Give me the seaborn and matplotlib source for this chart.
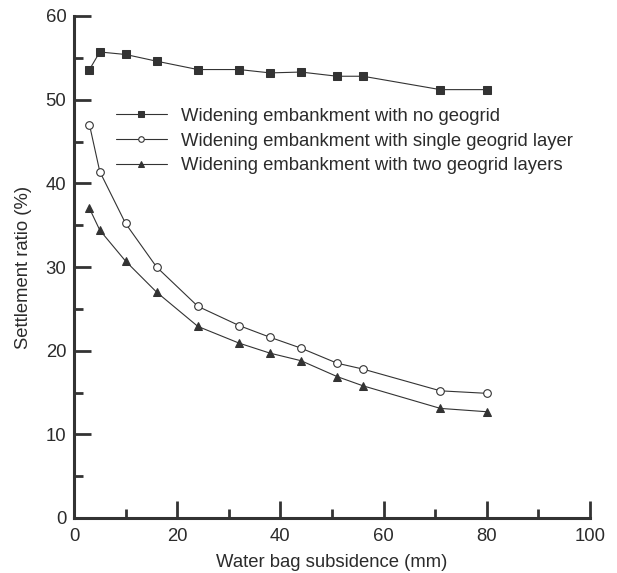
import matplotlib
matplotlib.use("Agg")
import matplotlib.pyplot as plt
import seaborn as sns
import pandas as pd
from matplotlib.ticker import MultipleLocator

# Data
subsidence = [3, 5, 10, 16, 24, 32, 38, 44, 51, 56, 71, 80]
no_geogrid = [53.6, 55.7, 55.4, 54.6, 53.6, 53.6, 53.2, 53.3, 52.8, 52.8, 51.2, 51.2]
single_layer = [47.0, 41.4, 35.2, 30.0, 25.3, 23.0, 21.6, 20.3, 18.5, 17.8, 15.2, 14.9]
two_layers = [37.0, 34.4, 30.7, 27.0, 22.9, 20.9, 19.7, 18.8, 16.9, 15.8, 13.1, 12.7]
series_names = [
    "Widening embankment with no geogrid",
    "Widening embankment with single geogrid layer",
    "Widening embankment with two geogrid layers",
]

sns.set_theme(style="ticks")
plt.rcParams["font.family"] = ["Liberation Sans", "DejaVu Sans"]

dark = "#333333"
text_c = "#2b2b2b"
fs = 13.3

fig = plt.figure(figsize=(6.17, 5.73), dpi=100)
ax = fig.add_axes([74 / 617, 1 - 518 / 573, (590 - 74) / 617, (518 - 16) / 573])

styles = [
    dict(marker="s", markerfacecolor=dark, markeredgecolor=dark, markersize=5.2),
    dict(marker="o", markerfacecolor="white", markeredgecolor=dark, markersize=5.5, markeredgewidth=0.8),
    dict(marker="^", markerfacecolor=dark, markeredgecolor=dark, markersize=6.0),
]
for name, vals, st in zip(series_names, [no_geogrid, single_layer, two_layers], styles):
    df = pd.DataFrame({"x": subsidence, "y": vals})
    sns.lineplot(data=df, x="x", y="y", ax=ax, color=dark, linewidth=0.8,
                 label=name, **st)

ax.set_xlim(0, 100)
ax.set_ylim(0, 60)
ax.xaxis.set_major_locator(MultipleLocator(20))
ax.xaxis.set_minor_locator(MultipleLocator(10))
ax.yaxis.set_major_locator(MultipleLocator(10))
ax.yaxis.set_minor_locator(MultipleLocator(5))

for side in ["top", "right"]:
    ax.spines[side].set_visible(False)
for side in ["left", "bottom"]:
    ax.spines[side].set_linewidth(2.2)
    ax.spines[side].set_color(dark)

ax.tick_params(axis="both", which="major", direction="in", length=12.5, width=2.0,
               color=dark, labelsize=fs, labelcolor=text_c)
ax.tick_params(axis="both", which="minor", direction="in", length=6.5, width=2.0, color=dark)
ax.tick_params(axis="y", which="major", pad=5.5)
ax.tick_params(axis="x", which="major", pad=7)

ax.set_xlabel("Water bag subsidence (mm)", fontsize=fs, color=text_c, labelpad=7)
ax.set_ylabel("Settlement ratio (%)", fontsize=fs, color=text_c, labelpad=10)

leg = ax.legend(loc="upper left", bbox_to_anchor=(0.081, 0.817), frameon=False,
                fontsize=fs, handlelength=2.75, handletextpad=0.8, labelspacing=0.42,
                borderpad=0, borderaxespad=0, labelcolor=text_c)
for h in leg.legend_handles:
    h.set_markersize(4)

fig.savefig("out.png", dpi=100)
